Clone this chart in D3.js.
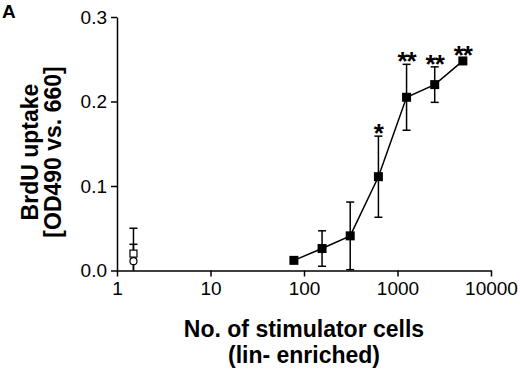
<!DOCTYPE html>
<html>
<head>
<meta charset="utf-8">
<script src="https://cdn.jsdelivr.net/npm/d3@7"></script>
<style>
  body { margin: 0; background: #fff; }
  svg { display: block; font-family: Arial, "Liberation Sans", sans-serif; }
</style>
</head>
<body>
<svg id="chart"></svg>
<script>
// stimulator cell numbers (lin- enriched) and BrdU uptake
const cells = [78, 156, 312, 625, 1250, 2500, 5000];
const uptake = [0.012, 0.026, 0.041, 0.111, 0.205, 0.220, 0.248];
const sd = [0.002, 0.021, 0.040, 0.048, 0.039, 0.021, 0.003];
const stars = ["", "", "", "*", "**", "**", "**"];

// controls plotted at x = 1.5
const ctrlX = [1.5, 1.5];
const ctrlY = [0.020, 0.011];
const ctrlSd = [0.030, 0.020];
const ctrlShape = ["square", "circle"];

const xTicks = [1, 10, 100, 1000, 10000];
const yTicks = [0, 0.1, 0.2, 0.3];

const W = 520, H = 369;
const svg = d3.select('#chart').attr('width', W).attr('height', H);

const x = d3.scaleLog().domain([1, 10000]).range([117, 491]);
const y = d3.scaleLinear().domain([0, 0.3]).range([270.5, 17]);

const xAxis = svg.append('g')
  .attr('transform', `translate(0, ${y(0)})`)
  .call(d3.axisBottom(x).tickValues(xTicks).tickFormat(d3.format('d'))
    .tickSize(6).tickSizeOuter(0).tickPadding(5));

const yAxis = svg.append('g')
  .attr('transform', `translate(${x(1)}, 0)`)
  .call(d3.axisLeft(y).tickValues(yTicks).tickFormat(d3.format('.1f'))
    .tickSize(6).tickSizeOuter(0).tickPadding(4));

[xAxis, yAxis].forEach(g => {
  g.selectAll('path, line').attr('stroke', '#000').attr('stroke-width', 1.5);
  g.selectAll('text').attr('font-size', 19).attr('fill', '#000')
    .attr('font-family', 'Arial, "Liberation Sans", sans-serif');
});

// error bars
const plot = svg.append('g');
const cap = 4;
cells.forEach((c, i) => {
  const cx = x(c);
  const top = y(uptake[i] + sd[i]);
  const bot = y(Math.max(0, uptake[i] - sd[i]));
  plot.append('line').attr('x1', cx).attr('x2', cx).attr('y1', top).attr('y2', bot)
    .attr('stroke', '#000').attr('stroke-width', 1.5);
  [top, bot].forEach(v => plot.append('line')
    .attr('x1', cx - cap).attr('x2', cx + cap).attr('y1', v).attr('y2', v)
    .attr('stroke', '#000').attr('stroke-width', 1.5));
});

ctrlX.forEach((c, i) => {
  const cx = x(c);
  const top = y(ctrlY[i] + ctrlSd[i]);
  const bot = y(Math.max(0, ctrlY[i] - ctrlSd[i]));
  plot.append('line').attr('x1', cx).attr('x2', cx).attr('y1', top).attr('y2', bot)
    .attr('stroke', '#000').attr('stroke-width', 1.5);
  plot.append('line').attr('x1', cx - cap).attr('x2', cx + cap).attr('y1', top).attr('y2', top)
    .attr('stroke', '#000').attr('stroke-width', 1.5);
});

// connecting line
const line = d3.line().x((d, i) => x(cells[i])).y(d => y(d));
plot.append('path').datum(uptake).attr('d', line)
  .attr('fill', 'none').attr('stroke', '#000').attr('stroke-width', 1.5);

// filled squares
const s = 9;
plot.selectAll('rect.pt').data(uptake).enter().append('rect')
  .attr('class', 'pt')
  .attr('x', (d, i) => x(cells[i]) - s / 2)
  .attr('y', d => y(d) - s / 2)
  .attr('width', s).attr('height', s)
  .attr('fill', '#000');

// open control symbols
ctrlX.forEach((c, i) => {
  if (ctrlShape[i] === 'square') {
    plot.append('rect').attr('x', x(c) - 3.5).attr('y', y(ctrlY[i]) - 3.5)
      .attr('width', 7).attr('height', 7)
      .attr('fill', '#fff').attr('stroke', '#000').attr('stroke-width', 1.2);
  } else {
    plot.append('circle').attr('cx', x(c)).attr('cy', y(ctrlY[i])).attr('r', 3.5)
      .attr('fill', '#fff').attr('stroke', '#000').attr('stroke-width', 1.2);
  }
});

// significance stars
plot.selectAll('text.star').data(stars).enter().append('text')
  .attr('class', 'star')
  .attr('x', (d, i) => x(cells[i]))
  .attr('y', (d, i) => y(uptake[i] + sd[i]) + 6)
  .attr('text-anchor', 'middle')
  .attr('font-size', 26).attr('font-weight', 'bold')
  .attr('letter-spacing', -1)
  .text(d => d);

// titles
svg.append('text').attr('x', 2).attr('y', 18)
  .attr('font-size', 19).attr('font-weight', 'bold').text('A');

const xt = svg.append('text').attr('text-anchor', 'middle')
  .attr('font-size', 23).attr('font-weight', 'bold');
xt.append('tspan').attr('x', 304).attr('y', 337).text('No. of stimulator cells');
xt.append('tspan').attr('x', 304).attr('y', 363).text('(lin- enriched)');

const yt = svg.append('g').attr('transform', 'translate(0, 152) rotate(-90)');
yt.append('text').attr('x', 0).attr('y', 38).attr('text-anchor', 'middle')
  .attr('font-size', 23).attr('font-weight', 'bold').text('BrdU uptake');
yt.append('text').attr('x', 0).attr('y', 61).attr('text-anchor', 'middle')
  .attr('font-size', 23).attr('font-weight', 'bold').text('[OD490 vs. 660]');
</script>
</body>
</html>
